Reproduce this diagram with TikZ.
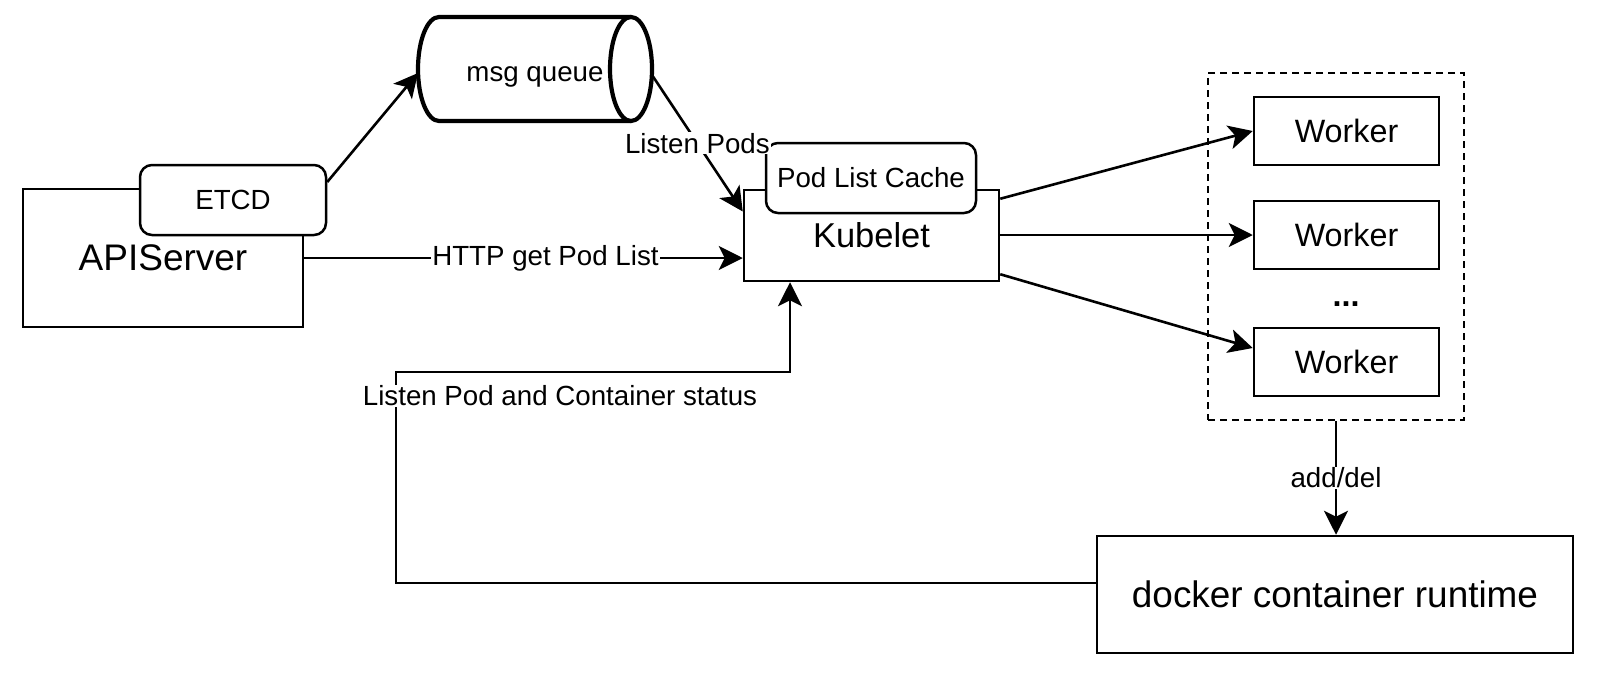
\documentclass[tikz,border=0pt]{standalone}
\usepackage{fontspec}
\setmainfont{Liberation Sans}
\usetikzlibrary{arrows.meta,calc}
\newcommand{\myfs}[1]{\fontsize{#1}{#1}\selectfont}
\begin{document}
\begin{tikzpicture}[x=1pt,y=-1pt,
  box/.style={draw, line width=2.5pt, fill=white, inner sep=0pt},
  rbox/.style={box, rounded corners=12pt},
  conn/.style={line width=2.6pt},
  arr/.style={conn, -{Stealth[length=24pt,width=24pt,inset=6pt]}},
  lbl/.style={fill=white, inner sep=1pt, font=\myfs{27.7}},
  small/.style={font=\myfs{27.7}}]
\fill[white] (0,0) rectangle (1600,678);
\useasboundingbox (0,0) rectangle (1600,678);

% APIServer + ETCD
\node[box, minimum width=280pt, minimum height=138pt, font=\myfs{37}] (api) at (163,258) {APIServer};
\node[rbox, minimum width=186pt, minimum height=70pt, small] (etcd) at (233,200) {ETCD};

% msg queue cylinder
\draw[line width=4.2pt, fill=white] (631,17) -- (439,17) .. controls (427.4,17) and (418,40.3) .. (418,69) .. controls (418,97.7) and (427.4,121) .. (439,121) -- (631,121);
\draw[line width=4.2pt, fill=white] (631,69) ellipse [x radius=21pt, y radius=52pt];
\node[small, inner sep=0pt] (mq) at (535,77) {msg queue};
\coordinate (mqW) at (418,73);
\coordinate (mqE) at (652,75);

% Kubelet + cache
\node[box, minimum width=255pt, minimum height=91pt, font=\myfs{34.5}] (kub) at (871.5,235.5) {Kubelet};
\node[rbox, minimum width=210pt, minimum height=70pt, small] (cache) at (871,178) {Pod List Cache};

% workers
\node[draw, dashed, dash pattern=on 7pt off 5pt, line width=2.5pt, minimum width=256pt, minimum height=347pt] (grp) at (1336,246.5) {};
\node[box, minimum width=185pt, minimum height=68pt, font=\myfs{32.3}] (w1) at (1346.5,131) {Worker};
\node[box, minimum width=185pt, minimum height=68pt, font=\myfs{32.3}] (w2) at (1346.5,235) {Worker};
\node[box, minimum width=185pt, minimum height=68pt, font=\myfs{32.3}] (w3) at (1346.5,362) {Worker};
\node[font=\bfseries\myfs{32.3}, anchor=base, inner sep=0pt] (dots) at (1346,306) {...};

% docker
\node[box, minimum width=476pt, minimum height=117pt, font=\myfs{36.9}] (dock) at (1335,594.5) {docker container runtime};

% connectors
\draw[arr] ([yshift=18pt]etcd.east) -- (mqW);
\draw[arr] (mqE) -- node[lbl, midway] (lp) {Listen Pods} ([yshift=24pt]kub.west);
\draw[arr] (api.east) -- node[lbl, pos=0.55] (http) {HTTP get Pod List} (kub.west |- api.east);
\draw[arr] ([yshift=-10pt]kub.north east) -- (w1.west);
\draw[arr] (kub.east |- w2.west) -- (w2.west);
\draw[arr] ([yshift=8pt]kub.south east) -- ([yshift=14pt]w3.west);
\draw[arr] (grp.south) -- node[lbl, midway] (ad) {add/del} (grp.south |- dock.north);

\coordinate (c1) at (396,583);
\coordinate (c2) at (396,372);
\coordinate (c3) at (790,372);
\draw[arr] (c1 -| dock.west) -- (c1) -- (c2) -- (c3) -- (c3 |- kub.south);
\node[lbl] (lpc) at (560,396) {Listen Pod and Container status};
\end{tikzpicture}
\end{document}
